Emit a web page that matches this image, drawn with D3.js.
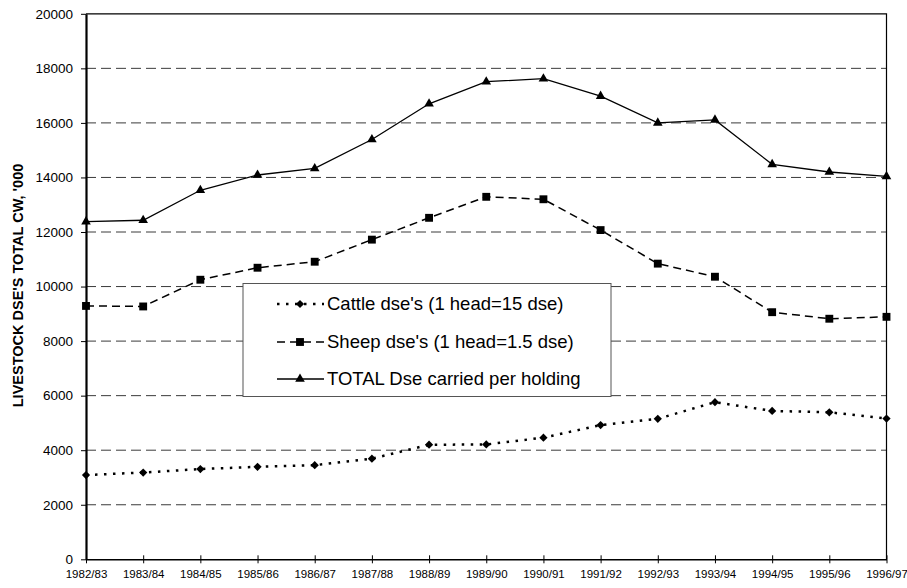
<!DOCTYPE html>
<html>
<head>
<meta charset="utf-8">
<script src="https://cdn.jsdelivr.net/npm/d3@7"></script>
<style>
  html, body { margin: 0; padding: 0; background: #fff; }
  svg { display: block; font-family: "Liberation Sans", Arial, sans-serif; }
</style>
</head>
<body>
<svg id="chart" width="907" height="588"></svg>
<script>
// Seasons on the x axis
const seasons = ["1982/83","1983/84","1984/85","1985/86","1986/87","1987/88","1988/89",
  "1989/90","1990/91","1991/92","1992/93","1993/94","1994/95","1995/96","1996/97"];

// Dry sheep equivalents ('000)
const cattleDse = [3090, 3180, 3310, 3390, 3450, 3690, 4200, 4210, 4460, 4920, 5150, 5760, 5440, 5390, 5160];
const sheepDse  = [9290, 9270, 10250, 10690, 10910, 11720, 12520, 13290, 13200, 12070, 10840, 10360, 9060, 8820, 8890];
const totalDse  = [12380, 12430, 13530, 14090, 14330, 15390, 16700, 17510, 17620, 16980, 16000, 16110, 14480, 14200, 14040];

const yTicks = [0, 2000, 4000, 6000, 8000, 10000, 12000, 14000, 16000, 18000, 20000];

const seriesNames = ["Cattle dse's (1 head=15 dse)", "Sheep dse's (1 head=1.5 dse)", "TOTAL Dse carried per holding"];

const svg = d3.select("#chart");
const m = { left: 86, right: 886.5, top: 13.8, bottom: 559.3 };

const x = d3.scalePoint().domain(seasons).range([m.left, m.right]);
const y = d3.scaleLinear().domain([0, 20000]).range([m.bottom, m.top]);

// Dashed horizontal gridlines
svg.append("g").selectAll("line")
  .data(yTicks.filter(v => v > 0 && v < 20000))
  .join("line")
  .attr("x1", m.left).attr("x2", m.right)
  .attr("y1", d => y(d)).attr("y2", d => y(d))
  .attr("stroke", "#3a3a3a").attr("stroke-width", 1)
  .attr("stroke-dasharray", "10,5");

// Plot frame (top and right)
svg.append("path")
  .attr("d", `M${m.left},${y(20000)}H${m.right}V${m.bottom}`)
  .attr("fill", "none").attr("stroke", "#000").attr("stroke-width", 1.2);

// Y axis
const yAxis = svg.append("g")
  .attr("transform", `translate(${m.left},0)`)
  .call(d3.axisLeft(y).tickValues(yTicks).tickSize(5).tickSizeOuter(0).tickFormat(d3.format("d")));
yAxis.select(".domain").attr("stroke", "#000").attr("stroke-width", 2.2);
yAxis.selectAll(".tick line").attr("stroke", "#000");
yAxis.selectAll("text").attr("font-size", 13.5).attr("fill", "#000").attr("x", -13)
  .attr("font-family", "'Liberation Sans', Arial, sans-serif");

// X axis with ticks crossing the baseline
const xAxis = svg.append("g")
  .attr("transform", `translate(0,${m.bottom})`)
  .call(d3.axisBottom(x).tickSize(4).tickSizeOuter(0));
xAxis.select(".domain").attr("stroke", "#000").attr("stroke-width", 1.6);
xAxis.selectAll(".tick line").attr("stroke", "#000").attr("y1", -4);
xAxis.selectAll("text").attr("font-size", 11.5).attr("fill", "#000").attr("y", 11)
  .attr("font-family", "'Liberation Sans', Arial, sans-serif");

// Y axis title
svg.append("text")
  .attr("transform", `translate(18,${(158 + 413) / 2}) rotate(-90)`)
  .attr("text-anchor", "middle").attr("dy", "0.35em")
  .attr("font-size", 14.5).attr("font-weight", "bold")
  .text("LIVESTOCK DSE'S TOTAL CW, '000");

const line = d3.line().x((d, i) => x(seasons[i])).y(d => y(d));

const series = [
  { name: seriesNames[0], values: cattleDse, dash: "2.5,6.5", width: 2.5, symbol: d3.symbolSquare, size: 34, rot: 45 },
  { name: seriesNames[1], values: sheepDse, dash: "8,5", width: 1.5, symbol: d3.symbolSquare, size: 62, rot: 0 },
  { name: seriesNames[2], values: totalDse, dash: null, width: 1.3, symbol: d3.symbolTriangle, size: 40, rot: 0 }
];

series.forEach(s => {
  svg.append("path")
    .datum(s.values)
    .attr("d", line)
    .attr("fill", "none").attr("stroke", "#000")
    .attr("stroke-width", s.width)
    .attr("stroke-dasharray", s.dash);
  svg.append("g").selectAll("path")
    .data(s.values)
    .join("path")
    .attr("transform", (d, i) => `translate(${x(seasons[i])},${y(d)}) rotate(${s.rot})`)
    .attr("d", d3.symbol(s.symbol, s.size))
    .attr("fill", "#000");
});

// Legend
const lg = svg.append("g");
lg.append("rect")
  .attr("x", 243).attr("y", 283.5).attr("width", 368).attr("height", 113)
  .attr("fill", "#fff").attr("stroke", "#555").attr("stroke-width", 1);
const rowsY = [304, 342, 379];
series.forEach((s, i) => {
  lg.append("line")
    .attr("x1", 277).attr("x2", 324).attr("y1", rowsY[i]).attr("y2", rowsY[i])
    .attr("stroke", "#000").attr("stroke-width", s.width)
    .attr("stroke-dasharray", s.dash);
  lg.append("path")
    .attr("transform", `translate(300,${rowsY[i]}) rotate(${s.rot})`)
    .attr("d", d3.symbol(s.symbol, s.size))
    .attr("fill", "#000");
  lg.append("text")
    .attr("x", 327).attr("y", rowsY[i]).attr("dy", "0.35em")
    .attr("font-size", 18.5).attr("fill", "#000")
    .text(s.name);
});
</script>
</body>
</html>
